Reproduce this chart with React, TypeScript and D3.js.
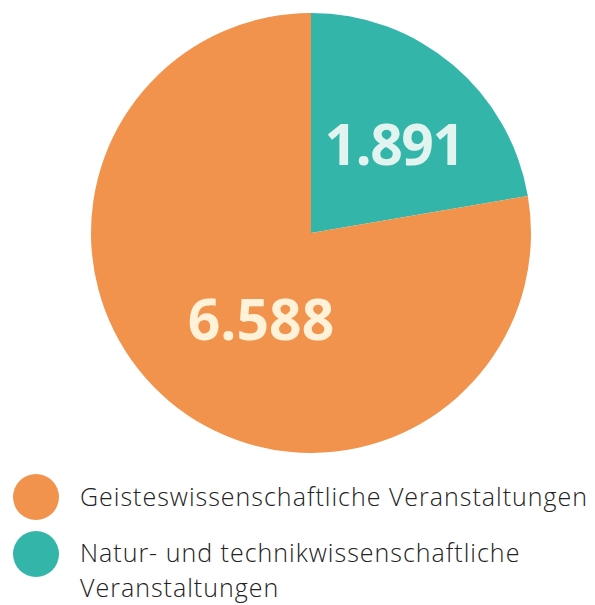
import React from "react";
import * as d3 from "d3";

const categories = ["Geisteswissenschaftliche Veranstaltungen", "Natur- und technikwissenschaftliche Veranstaltungen"];
const values = [6588, 1891];
const valueLabels = ["6.588", "1.891"];
const legendLines = [["Geisteswissenschaftliche Veranstaltungen"], ["Natur- und technikwissenschaftliche", "Veranstaltungen"]];
const colors = ["#F1934D", "#33B5A9"];
const labelColors = ["#FFF2D8", "#E2F4EF"];

export default function App() {
  const W = 595, H = 605;
  const cx = 311, cy = 233, r = 220;
  const order = [1, 0];
  const pie = d3.pie<number>().sort(null).value((i) => values[i]);
  const arcs = pie(order);
  const arc = d3.arc<d3.PieArcDatum<number>>().innerRadius(0).outerRadius(r);
  const labelPos: Record<number, [number, number]> = { 1: [394, 165], 0: [261, 340] };
  return (
    <svg width={W} height={H} style={{ position: "absolute", left: 0, top: 0 }}>
      <g transform={`translate(${cx},${cy})`}>
        {arcs.map((a) => (
          <path key={a.data} d={arc(a) || ""} fill={colors[a.data]} />
        ))}
      </g>
      {order.map((i) => (
        <text key={"l" + i} x={labelPos[i][0]} y={labelPos[i][1]} textAnchor="middle"
          fontFamily="'Open Sans', sans-serif" fontWeight={700} fontSize={57} fill={labelColors[i]}
          letterSpacing={i === 1 ? -1.5 : 0}>
          {valueLabels[i]}
        </text>
      ))}
      {categories.map((c, i) => (
        <g key={c}>
          <circle cx={36} cy={497 + i * 57} r={23} fill={colors[i]} />
          {legendLines[i].map((ln, j) => (
            <text key={j} x={80} y={506 + i * 56 + j * 35} fontFamily="'Open Sans', sans-serif" fontWeight={300}
              fontSize={25} letterSpacing={1} fill="#222">{ln}</text>
          ))}
        </g>
      ))}
    </svg>
  );
}
